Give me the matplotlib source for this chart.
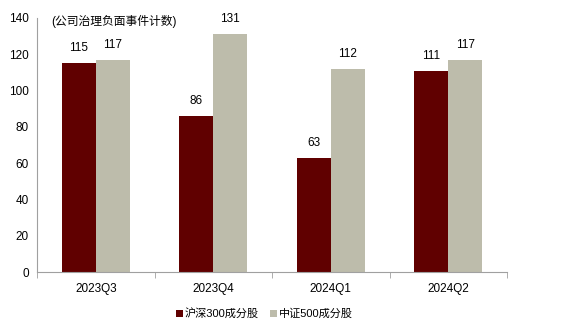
import numpy as np
import matplotlib
matplotlib.use("Agg")
import matplotlib.pyplot as plt

plt.rcParams['font.family'] = ['Liberation Sans', 'Noto Sans CJK SC', 'DejaVu Sans']

quarters = ['2023Q3', '2023Q4', '2024Q1', '2024Q2']
hs300 = [115, 86, 63, 111]
zz500 = [117, 131, 112, 117]
series_names = ['沪深300成分股', '中证500成分股']
colors = ['#600000', '#BDBCAB']

fig = plt.figure(figsize=(5.63, 3.33), dpi=100)
ax = fig.add_axes([0.0657, 0.183, 0.835, 0.763])

x = np.arange(len(quarters))
w = 0.29
b1 = ax.bar(x - w / 2, hs300, w, color=colors[0], label=series_names[0])
b2 = ax.bar(x + w / 2, zz500, w, color=colors[1], label=series_names[1])

# value labels above bars
for bars, vals in ((b1, hs300), (b2, zz500)):
    for rect, v in zip(bars, vals):
        ax.text(rect.get_x() + rect.get_width() / 2, v + 5, str(v),
                ha='center', va='bottom', fontsize=8.5)

ax.set_xlim(-0.5, len(quarters) - 0.5)
ax.set_ylim(0, 140)
ax.set_yticks(range(0, 141, 20))
ax.set_xticks(x)
ax.set_xticklabels(quarters, fontsize=8.5)
ax.set_xticks(np.arange(-0.5, len(quarters), 1), minor=True)
ax.tick_params(axis='x', which='major', length=0, pad=8)
ax.tick_params(axis='x', which='minor', length=4, color='#A0A0A0', direction='out')
ax.tick_params(axis='y', length=0, labelsize=8.5, pad=6)

for s in ('top', 'right'):
    ax.spines[s].set_visible(False)
ax.spines['left'].set_color('#A0A0A0')
ax.spines['bottom'].set_color('#A0A0A0')

ax.text(0.03, 0.985, '(公司治理负面事件计数)', transform=ax.transAxes,
        ha='left', va='center', fontsize=8.5)

fig.legend(handles=[b1, b2], loc='center', bbox_to_anchor=(0.47, 0.058),
           ncol=2, frameon=False, fontsize=8, handlelength=0.6, handleheight=0.6,
           handletextpad=0.2, columnspacing=1.0)

fig.savefig('out.png', dpi=100)
